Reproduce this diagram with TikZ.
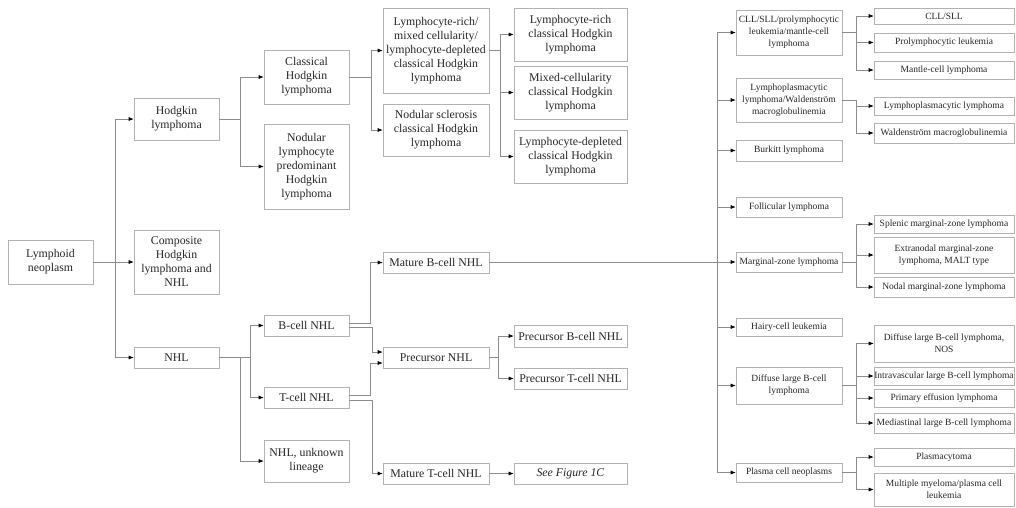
\documentclass[tikz,border=0pt]{standalone}
\usepackage{fontspec}
\setmainfont{Liberation Serif}
\usetikzlibrary{arrows.meta}
\begin{document}
\begin{tikzpicture}[x=1pt,y=-1pt,
  bx/.style={draw=black!30, line width=0.6pt, align=center, inner sep=0pt,
    text=black!85, font=\fontsize{11.8}{14}\selectfont},
  sm/.style={bx, font=\fontsize{9.5}{12}\selectfont},
  arr/.style={draw=black!45, line width=0.6pt, -{Latex[length=5pt,width=4pt,black]}},
  ln/.style={draw=black!45, line width=0.6pt}]
\useasboundingbox[fill=white] (0,0) rectangle (1016,507);
% column 1
\node[bx, minimum width=85, minimum height=44] (lym) at (50.5,262) {Lymphoid\\neoplasm};
% column 2
\node[bx, minimum width=85, minimum height=42] (hod) at (176.5,119) {Hodgkin\\lymphoma};
\node[bx, minimum width=85, minimum height=64] (comp) at (176.5,262) {Composite\\Hodgkin\\lymphoma and\\NHL};
\node[bx, minimum width=85, minimum height=21] (nhl) at (176.5,357.5) {NHL};
% column 3
\node[bx, minimum width=85, minimum height=54] (chl) at (306.5,77) {Classical\\Hodgkin\\lymphoma};
\node[bx, minimum width=85, minimum height=85] (nlp) at (306.5,166.5) {Nodular\\lymphocyte\\predominant\\Hodgkin\\lymphoma};
\node[bx, minimum width=85, minimum height=21] (bnhl) at (306.5,325.5) {B-cell NHL};
\node[bx, minimum width=85, minimum height=21] (tnhl) at (306.5,397.5) {T-cell NHL};
\node[bx, minimum width=85, minimum height=42] (unk) at (306.5,461) {NHL, unknown\\lineage};
% column 4
\node[bx, minimum width=106, minimum height=85] (lmx) at (436,50.5) {Lymphocyte-rich/\\mixed cellularity/\\lymphocyte-depleted\\classical Hodgkin\\lymphoma};
\node[bx, minimum width=106, minimum height=52] (ns) at (436,130) {Nodular sclerosis\\classical Hodgkin\\lymphoma};
\node[bx, minimum width=106, minimum height=21] (matb) at (436,262.5) {Mature B-cell NHL};
\node[bx, minimum width=106, minimum height=21] (prec) at (436,357.5) {Precursor NHL};
\node[bx, minimum width=106, minimum height=21] (matt) at (436,473.5) {Mature T-cell NHL};
% column 5
\node[bx, minimum width=113, minimum height=53] (lr) at (570.5,34.5) {Lymphocyte-rich\\classical Hodgkin\\lymphoma};
\node[bx, minimum width=113, minimum height=53] (mc) at (570.5,92.5) {Mixed-cellularity\\classical Hodgkin\\lymphoma};
\node[bx, minimum width=113, minimum height=53] (ld) at (570.5,156.5) {Lymphocyte-depleted\\classical Hodgkin\\lymphoma};
\node[bx, minimum width=113, minimum height=22] (pb) at (570.5,336) {Precursor B-cell NHL};
\node[bx, minimum width=113, minimum height=21] (pt) at (570.5,378.5) {Precursor T-cell NHL};
\node[bx, minimum width=113, minimum height=21] (seefig) at (570.5,473.5) {\textit{See Figure 1C}};
% right column
\node[sm, minimum width=106, minimum height=45] (cll) at (789,32.5) {CLL/SLL/prolymphocytic\\leukemia/mantle-cell\\lymphoma};
\node[sm, minimum width=106, minimum height=44] (lpw) at (789,100) {Lymphoplasmacytic\\lymphoma/Waldenström\\macroglobulinemia};
\node[sm, minimum width=106, minimum height=21] (bur) at (789,150.5) {Burkitt lymphoma};
\node[sm, minimum width=106, minimum height=20] (fol) at (789,207) {Follicular lymphoma};
\node[sm, minimum width=106, minimum height=20] (mz) at (789,262) {Marginal-zone lymphoma};
\node[sm, minimum width=106, minimum height=18] (hcl) at (789,327) {Hairy-cell leukemia};
\node[sm, minimum width=106, minimum height=37] (dlb) at (789,385.5) {Diffuse large B-cell\\lymphoma};
\node[sm, minimum width=106, minimum height=19] (pcn) at (789,472.5) {Plasma cell neoplasms};
% far right column
\node[sm, minimum width=140, minimum height=16] (cllsll) at (944,16) {CLL/SLL};
\node[sm, minimum width=140, minimum height=19] (pro) at (944,42.5) {Prolymphocytic leukemia};
\node[sm, minimum width=140, minimum height=18] (man) at (944,70) {Mantle-cell lymphoma};
\node[sm, minimum width=140, minimum height=18] (lpl) at (944,106) {Lymphoplasmacytic lymphoma};
\node[sm, minimum width=140, minimum height=20] (wal) at (944,133) {Waldenström macroglobulinemia};
\node[sm, minimum width=140, minimum height=18] (spl) at (944,224) {Splenic marginal-zone lymphoma};
\node[sm, minimum width=140, minimum height=36] (ext) at (944,255) {Extranodal marginal-zone\\lymphoma, MALT type};
\node[sm, minimum width=140, minimum height=20] (nod) at (944,287) {Nodal marginal-zone lymphoma};
\node[sm, minimum width=140, minimum height=37] (dnos) at (944,343.5) {Diffuse large B-cell lymphoma,\\NOS};
\node[sm, minimum width=140, minimum height=18] (ivl) at (944,376) {Intravascular large B-cell lymphoma};
\node[sm, minimum width=140, minimum height=18] (pel) at (944,398) {Primary effusion lymphoma};
\node[sm, minimum width=140, minimum height=20] (med) at (944,423) {Mediastinal large B-cell lymphoma};
\node[sm, minimum width=140, minimum height=18] (pla) at (944,457) {Plasmacytoma};
\node[sm, minimum width=140, minimum height=33] (mm) at (944,489.5) {Multiple myeloma/plasma cell\\leukemia};
% junction coordinates
\coordinate (j1) at (115,262);
\coordinate (jh) at (240,119);
\coordinate (jc) at (371,77);
\coordinate (jl) at (500,50.5);
\coordinate (jn1) at (250,357.5);
\coordinate (jn2) at (240,357.5);
\coordinate (jp) at (498,357.5);
\coordinate (jr) at (717,262.5);
\coordinate (jcll) at (856,32.5);
\coordinate (jlpw) at (856,100);
\coordinate (jmz) at (856,262);
\coordinate (jdlb) at (856,385.5);
\coordinate (jpcn) at (856,472.5);
% connectors
\draw[ln] (lym.east) -- (j1);
\foreach \c in {hod,comp,nhl} \draw[arr] (j1) |- (\c.west);
\draw[ln] (hod.east) -- (jh);
\foreach \c in {chl,nlp} \draw[arr] (jh) |- (\c.west);
\draw[ln] (chl.east) -- (jc);
\foreach \c in {lmx,ns} \draw[arr] (jc) |- (\c.west);
\draw[ln] (lmx.east) -- (jl);
\foreach \c in {lr,mc,ld} \draw[arr] (jl) |- (\c.west);
\draw[ln] (nhl.east) -- (jn1);
\foreach \c in {bnhl,tnhl} \draw[arr] (jn1) |- (\c.west);
\draw[arr] (jn2) |- (unk.west);
\draw[arr] ([yshift=2pt]bnhl.east) -- ++(21,0) |- (matb.west);
\draw[arr] ([yshift=-2pt]bnhl.east) -- ++(23,0) |- ([yshift=5.5pt]prec.west);
\draw[arr] ([yshift=2.5pt]tnhl.east) -- ++(21,0) |- ([yshift=-5.5pt]prec.west);
\draw[arr] ([yshift=-2.5pt]tnhl.east) -- ++(23,0) |- (matt.west);
\draw[ln] (prec.east) -- (jp);
\foreach \c in {pb,pt} \draw[arr] (jp) |- (\c.west);
\draw[arr] (matt.east) -- (seefig.west);
\draw[ln] (matb.east) -- (jr);
\foreach \c in {cll,lpw,bur,fol,mz,hcl,dlb,pcn} \draw[arr] (jr) |- (\c.west);
\draw[ln] (cll.east) -- (jcll);
\foreach \c in {cllsll,pro,man} \draw[arr] (jcll) |- (\c.west);
\draw[ln] (lpw.east) -- (jlpw);
\foreach \c in {lpl,wal} \draw[arr] (jlpw) |- (\c.west);
\draw[ln] (mz.east) -- (jmz);
\foreach \c in {spl,ext,nod} \draw[arr] (jmz) |- (\c.west);
\draw[ln] (dlb.east) -- (jdlb);
\foreach \c in {dnos,ivl,pel,med} \draw[arr] (jdlb) |- (\c.west);
\draw[ln] (pcn.east) -- (jpcn);
\foreach \c in {pla,mm} \draw[arr] (jpcn) |- (\c.west);
\end{tikzpicture}
\end{document}
